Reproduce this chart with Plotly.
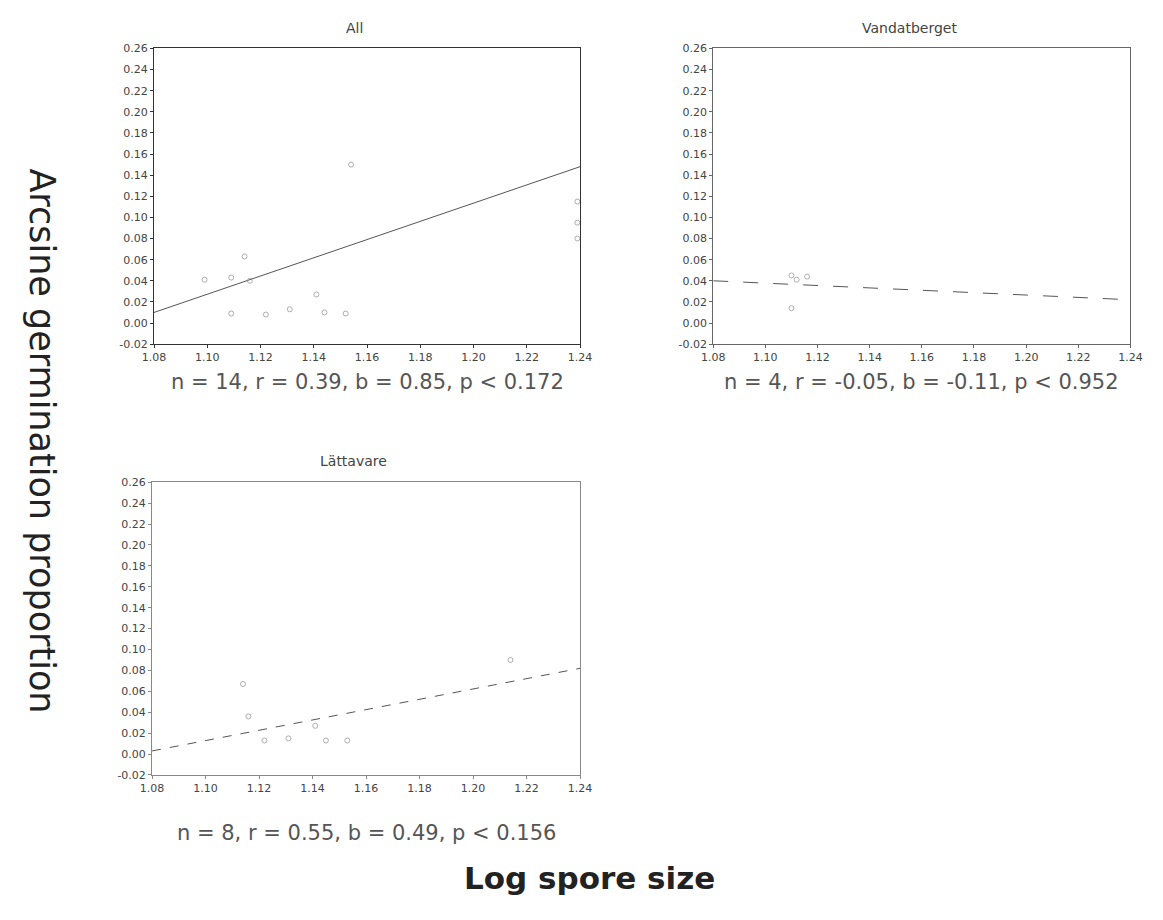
import plotly.graph_objects as go

# ---- data ----
all_x = [1.099, 1.109, 1.109, 1.114, 1.116, 1.122, 1.131, 1.141, 1.144, 1.152, 1.154, 1.239, 1.239, 1.239]
all_y = [0.041, 0.043, 0.009, 0.063, 0.040, 0.008, 0.013, 0.027, 0.010, 0.009, 0.150, 0.115, 0.095, 0.080]
all_fit_x = [1.08, 1.24]
all_fit_y = [0.010, 0.148]

van_x = [1.110, 1.116, 1.110, 1.112]
van_y = [0.045, 0.044, 0.014, 0.041]
van_fit_x = [1.08, 1.24]
van_fit_y = [0.040, 0.022]

lat_x = [1.114, 1.116, 1.122, 1.131, 1.141, 1.145, 1.153, 1.214]
lat_y = [0.067, 0.036, 0.013, 0.015, 0.027, 0.013, 0.013, 0.090]
lat_fit_x = [1.08, 1.24]
lat_fit_y = [0.003, 0.082]

titles = ["All", "Vandatberget", "Lättavare"]
captions = ["n = 14, r = 0.39, b = 0.85, p < 0.172",
            "n = 4, r = -0.05, b = -0.11, p < 0.952",
            "n = 8, r = 0.55, b = 0.49, p < 0.156"]
x_ticks = [1.08, 1.10, 1.12, 1.14, 1.16, 1.18, 1.20, 1.22, 1.24]
y_ticks = [-0.02, 0.00, 0.02, 0.04, 0.06, 0.08, 0.10, 0.12, 0.14, 0.16, 0.18, 0.20, 0.22, 0.24, 0.26]

W, H = 1163, 920
FONT = "DejaVu Sans"
# panel pixel boxes: (left, right, top, bottom), caption centre y
boxes = [(145, 580, 43, 343, 381), (716, 1142, 43, 343, 381), (143, 580, 483, 780, 839)]
datasets = [(all_x, all_y, all_fit_x, all_fit_y, "solid", "#333333"),
            (van_x, van_y, van_fit_x, van_fit_y, "longdash", "#666666"),
            (lat_x, lat_y, lat_fit_x, lat_fit_y, "dash", "#888888")]

fig = go.Figure()
font_col = "#444444"
layout = {}
annotations = []
for i, ((l, r, t, b, cy), (px, py, fx, fy, dash, axcol)) in enumerate(zip(boxes, datasets)):
    n = "" if i == 0 else str(i + 1)
    xa, ya = "x" + n, "y" + n
    fig.add_trace(go.Scatter(x=fx, y=fy, mode="lines", xaxis=xa, yaxis=ya,
                             line=dict(color="#555555", width=1, dash=dash), showlegend=False))
    fig.add_trace(go.Scatter(x=px, y=py, mode="markers", xaxis=xa, yaxis=ya,
                             marker=dict(symbol="circle-open", size=5, color="#999999",
                                         line=dict(width=0.8)), showlegend=False))
    common = dict(showgrid=False, zeroline=False, showline=True, mirror=True,
                  linecolor=axcol, linewidth=1, ticks="outside", ticklen=3,
                  tickcolor=axcol, tickfont=dict(size=11, color=font_col, family=FONT))
    layout["xaxis" + n] = dict(domain=[l / W, r / W], anchor=ya, range=[1.08, 1.24],
                               tickvals=x_ticks, ticktext=[f"{v:.2f}" for v in x_ticks], **common)
    layout["yaxis" + n] = dict(domain=[1 - b / H, 1 - t / H], anchor=xa, range=[-0.02, 0.26],
                               tickvals=y_ticks, ticktext=[f"{v:.2f}" for v in y_ticks], **common)
    annotations.append(dict(text=titles[i], x=((l + r) / 2 - 13) / W, y=1 - (t - 21) / H,
                            xref="paper", yref="paper", xanchor="center", yanchor="middle",
                            showarrow=False, font=dict(size=14, color="#444444", family=FONT)))
    annotations.append(dict(text=captions[i], x=((l + r) / 2) / W, y=1 - cy / H,
                            xref="paper", yref="paper", xanchor="center", yanchor="middle",
                            showarrow=False, font=dict(size=21, color="#555555", family=FONT)))

annotations.append(dict(text="<b>Log spore size</b>", x=590 / W, y=1 - 885 / H, xref="paper", yref="paper",
                        xanchor="center", yanchor="middle",
                        showarrow=False, font=dict(size=31, color="#222222", family=FONT)))
annotations.append(dict(text="Arcsine germination proportion", x=31 / W, y=1 - 441 / H, xref="paper",
                        yref="paper", xanchor="center", yanchor="middle", textangle=90, showarrow=False,
                        font=dict(size=35, color="#222222", family=FONT)))

fig.update_layout(width=W, height=H, margin=dict(l=0, r=0, t=0, b=0),
                  plot_bgcolor="white", paper_bgcolor="white", annotations=annotations, **layout)
fig.write_html("out.html")
